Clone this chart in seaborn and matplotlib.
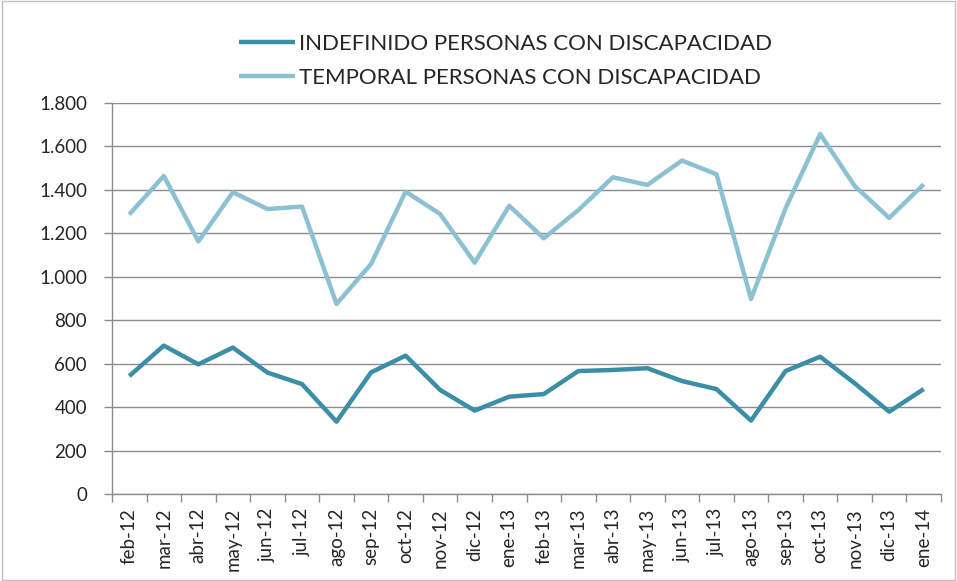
import numpy as np
import pandas as pd
import seaborn as sns
import matplotlib.pyplot as plt
from matplotlib.ticker import FuncFormatter, FixedLocator, MultipleLocator

months = ['feb-12', 'mar-12', 'abr-12', 'may-12', 'jun-12', 'jul-12', 'ago-12', 'sep-12',
          'oct-12', 'nov-12', 'dic-12', 'ene-13', 'feb-13', 'mar-13', 'abr-13', 'may-13',
          'jun-13', 'jul-13', 'ago-13', 'sep-13', 'oct-13', 'nov-13', 'dic-13', 'ene-14']
indefinido = [543, 683, 597, 674, 559, 506, 333, 560, 637, 479, 384, 448,
              460, 566, 571, 579, 520, 483, 338, 566, 632, 510, 379, 483]
temporal = [1287, 1464, 1163, 1389, 1312, 1323, 875, 1059, 1392, 1289, 1065, 1327,
            1177, 1307, 1458, 1423, 1535, 1472, 898, 1315, 1657, 1418, 1271, 1426]
series_names = ['INDEFINIDO PERSONAS CON DISCAPACIDAD', 'TEMPORAL PERSONAS CON DISCAPACIDAD']

df = pd.DataFrame({'Mes': months, series_names[0]: indefinido, series_names[1]: temporal})
df['x'] = range(len(months))
df_melted = df.melt(id_vars=['Mes', 'x'], var_name='Serie', value_name='Valor')

sns.set_style('white')
plt.rcParams['font.family'] = ['Lato', 'DejaVu Sans']

fig = plt.figure(figsize=(9.57, 5.81), dpi=100)
ax = fig.add_axes([112 / 957, 87 / 581, 829 / 957, 391 / 581])

palette = {series_names[0]: '#3a8ea6', series_names[1]: '#8cc1d3'}
sns.lineplot(data=df_melted, x='x', y='Valor', hue='Serie', palette=palette,
             linewidth=3.2, ax=ax, solid_capstyle='butt')

ax.set_xlim(-0.5, len(months) - 0.5)
ax.set_ylim(0, 1800)
ax.yaxis.set_major_locator(MultipleLocator(200))
ax.yaxis.set_major_formatter(FuncFormatter(lambda v, p: f'{int(v):,}'.replace(',', '.')))
ax.grid(axis='y', color='#8c8c8c', linewidth=1)
ax.set_axisbelow(True)

# category labels at centres, ticks at category boundaries
ax.xaxis.set_major_locator(FixedLocator(range(len(months))))
ax.set_xticklabels(months, rotation=90)
ax.xaxis.set_minor_locator(FixedLocator(np.arange(-0.5, len(months), 1)))
ax.tick_params(axis='x', which='major', length=0, pad=10, labelsize=13.5)
ax.tick_params(axis='x', which='minor', length=6, color='#8c8c8c', width=1, direction='out', bottom=True)
ax.tick_params(axis='y', length=6, color='#8c8c8c', width=1, direction='out', left=True, labelsize=13.5, pad=12)

for side in ['top', 'right']:
    ax.spines[side].set_visible(False)
for side in ['left', 'bottom']:
    ax.spines[side].set_color('#8c8c8c')
    ax.spines[side].set_linewidth(1)

ax.set_xlabel('')
ax.set_ylabel('')

handles, labels = ax.get_legend_handles_labels()
ax.legend(handles, labels, loc='center', bbox_to_anchor=(506 / 957, 1 - 61 / 581),
          bbox_transform=fig.transFigure, frameon=False, fontsize=16,
          handlelength=2.5, handletextpad=0.2, labelspacing=0.62, borderpad=0)

# outer chart border
fig.patches.append(plt.Rectangle((0.002, 0.002), 0.996, 0.996, transform=fig.transFigure,
                                 fill=False, edgecolor='#bfbfbf', linewidth=1))

fig.savefig('out.png', dpi=100)
